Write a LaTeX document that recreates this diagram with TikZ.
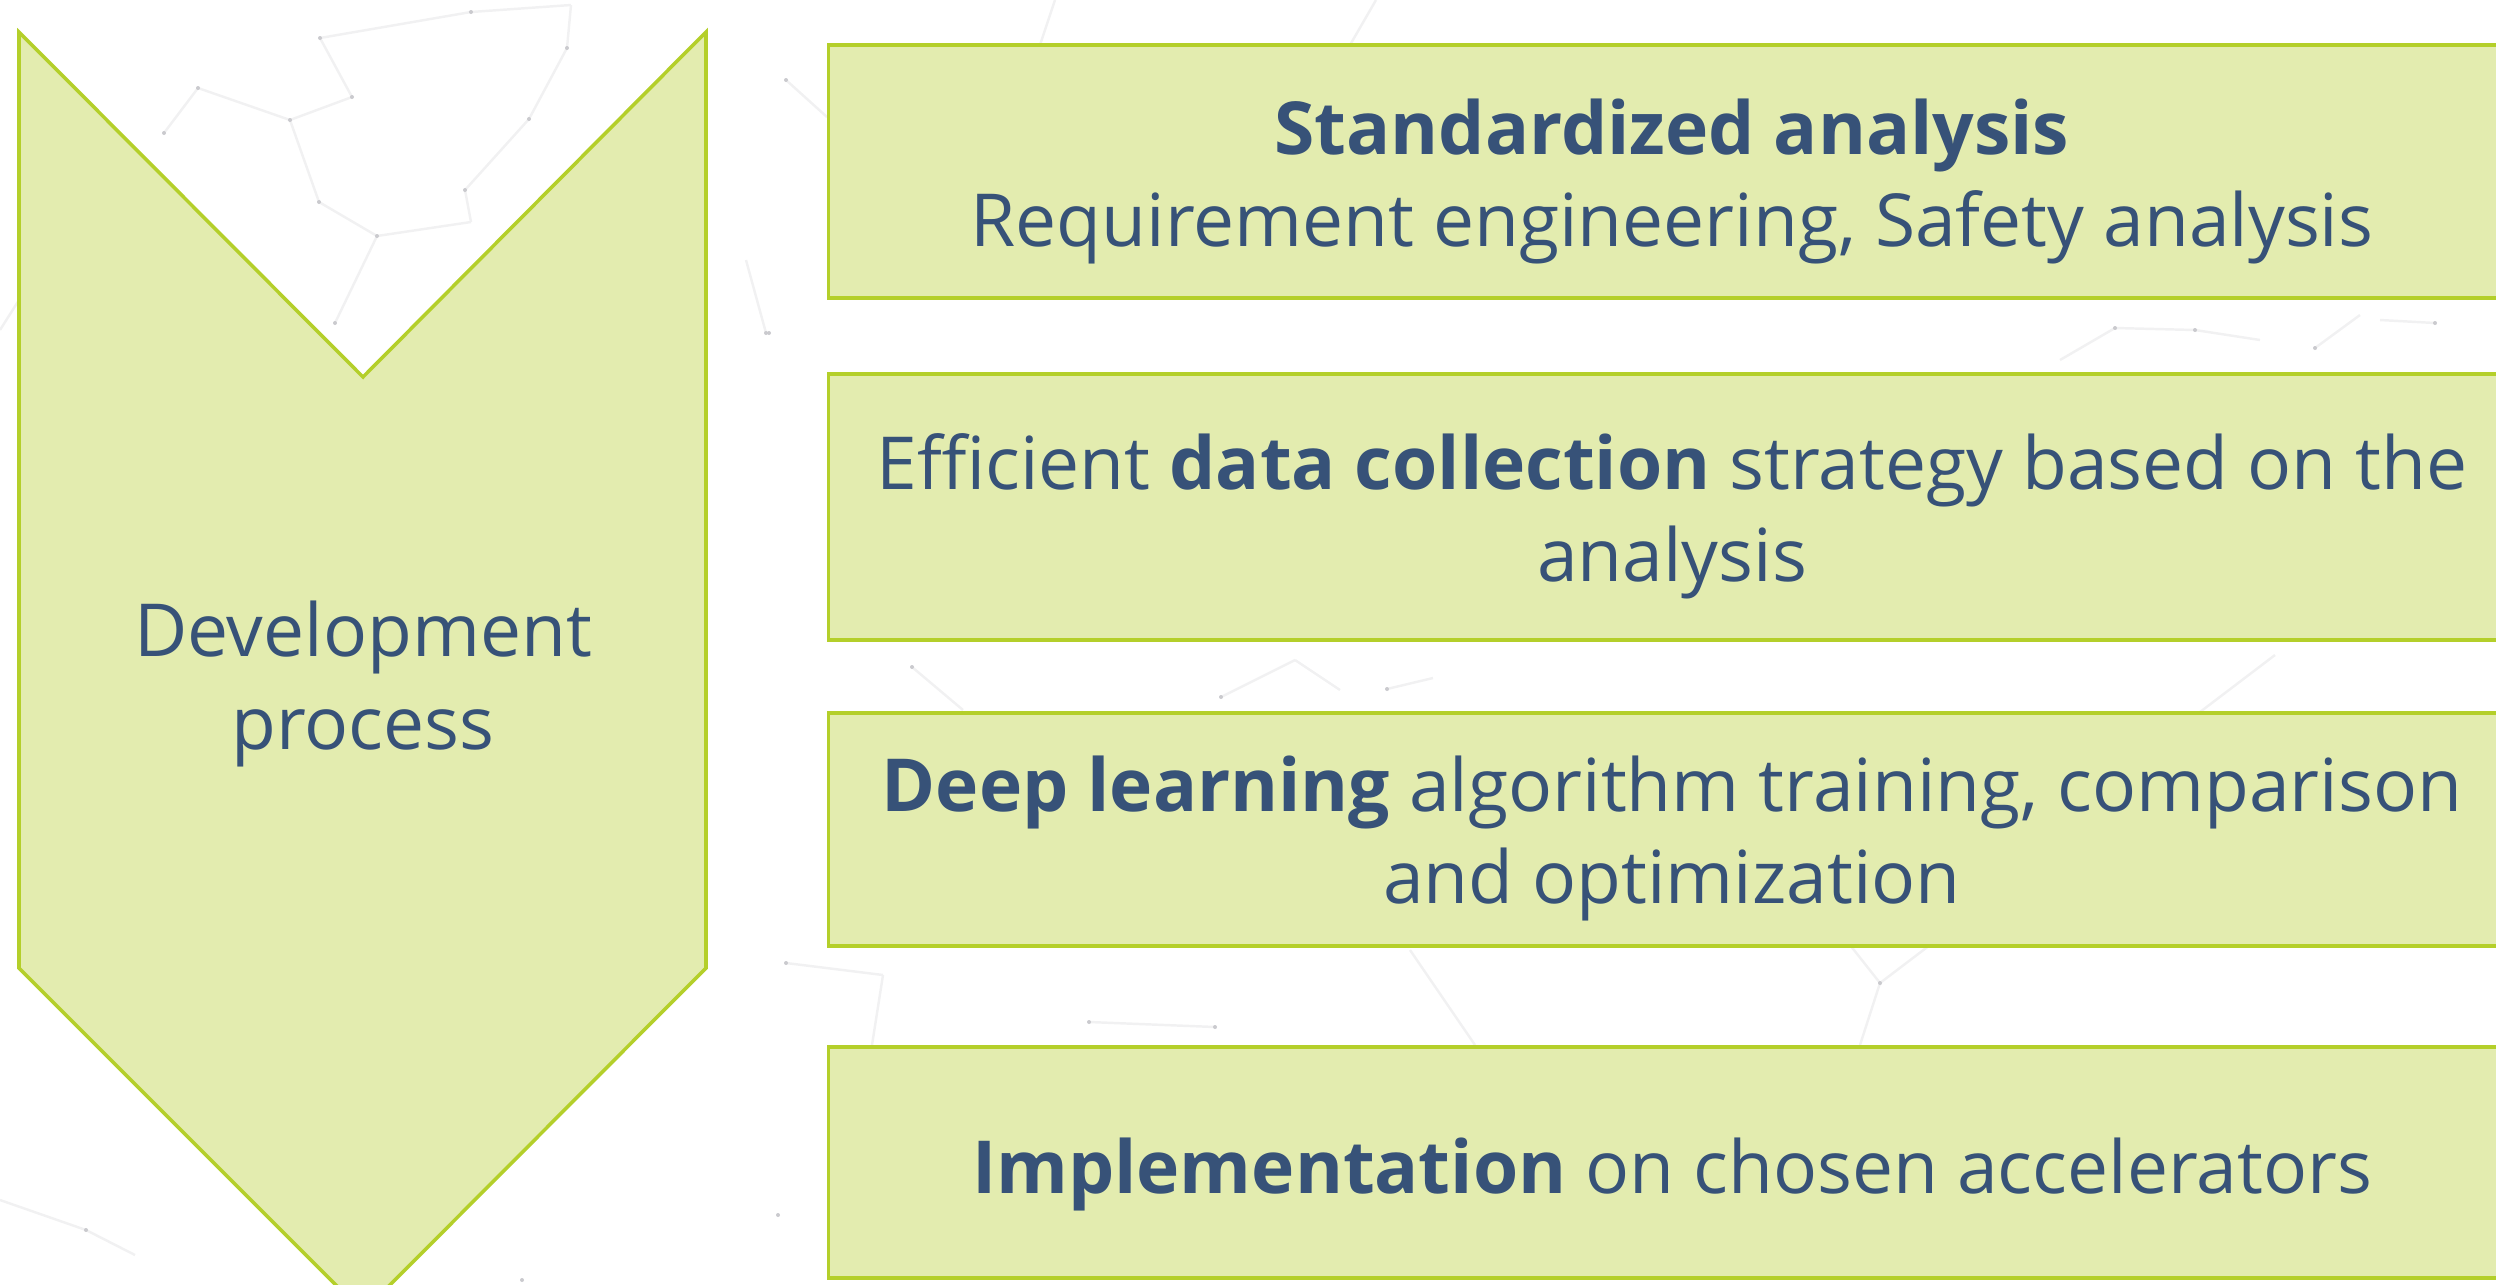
\documentclass[tikz,border=0pt]{standalone}
\usepackage{fontspec}
\setmainfont{Open Sans}
\usetikzlibrary{positioning}
\definecolor{lineGreen}{HTML}{B4CF2A}
\definecolor{fillGreen}{HTML}{E3ECAF}
\definecolor{textBlue}{HTML}{375278}
\definecolor{netGray}{HTML}{F1F1F2}
\definecolor{dotGray}{HTML}{CACACE}

\begin{document}
\begin{tikzpicture}[x=0.01cm, y=-0.01cm,
  every node/.style={font=\fontsize{20.8}{26.2}\selectfont, text=textBlue},
  stage/.style={draw=lineGreen, fill=fillGreen, line width=1pt,
               minimum width=16.86cm, inner sep=0pt},
  stagetext/.style={align=center, inner sep=0pt}]
\useasboundingbox (0,0) rectangle (2496,1284);
\clip (0,0) rectangle (2496,1284);
% faint network in the background
\foreach \a/\b/\c/\d in {198/88/164/133, 198/88/290/120, 290/120/352/97, 352/97/320/38,
    320/38/471/12, 471/12/571/5, 571/5/567/48, 567/48/529/119, 529/119/465/190,
    465/190/471/222, 471/222/377/236, 377/236/319/202, 319/202/290/120, 377/236/335/323,
    786/80/827/117, 746/260/766/333, 786/963/883/975, 883/975/872/1045, 0/1200/86/1230,
    86/1230/135/1255, 2060/360/2115/328, 2115/328/2195/330, 2195/330/2260/340,
    2315/348/2360/315, 2380/320/2435/323, 912/667/963/710, 1221/697/1295/660,
    1295/660/1340/690, 1387/689/1433/678, 2200/712/2275/655, 1880/983/1850/945,
    1880/983/1930/945, 1880/983/1860/1045, 1089/1022/1215/1027, 1055/0/1040/45,
    1376/0/1350/45, 1410/950/1475/1045, 0/330/19/300}
  \draw[netGray, line width=0.7pt] (\a,\b) -- (\c,\d);
\foreach \p/\q in {320/38, 352/97, 290/120, 198/88, 164/133, 567/48, 529/119, 471/12,
    377/236, 319/202, 465/190, 335/323, 786/80, 766/333, 786/963, 778/1215, 86/1230,
    522/1280, 2195/330, 2315/348, 2115/328, 2435/323, 769/333, 1221/697, 1387/689,
    912/667, 1215/1027, 1880/983, 1089/1022}
  \fill[dotGray] (\p,\q) circle (2);
% big downward chevron on the left
\draw[draw=lineGreen, fill=fillGreen, line width=1pt]
  (19,32) -- (363,377) -- (706,32) -- (706,968) -- (363,1312) -- (19,968) -- cycle;
\node[stagetext] (process) at (363,684) {Development\\process};
% the four stages
\node[stage, minimum height=2.53cm] (analysis) at (1672,171.5) {};
\node[stage, minimum height=2.66cm] (data) at (1672,507) {};
\node[stage, minimum height=2.33cm] (training) at (1672,829.5) {};
\node[stage, minimum height=2.31cm] (accel) at (1672,1162.5) {};
\node[stagetext] (analysisText) at ([yshift=-0.1cm]analysis.center)
  {\textbf{Standardized analysis}\\Requirement engineering, Safety analysis};
\node[stagetext] (dataText) at ([yshift=-0.09cm]data.center)
  {Efficient \textbf{data collection} strategy based on the\\analysis};
\node[stagetext] (trainingText) at ([yshift=-0.09cm]training.center)
  {\textbf{Deep learning} algorithm training, comparison\\and optimization};
\node[stagetext] (accelText) at ([yshift=-0.12cm]accel.center)
  {\textbf{Implementation} on chosen accelerators};
\end{tikzpicture}
\end{document}
